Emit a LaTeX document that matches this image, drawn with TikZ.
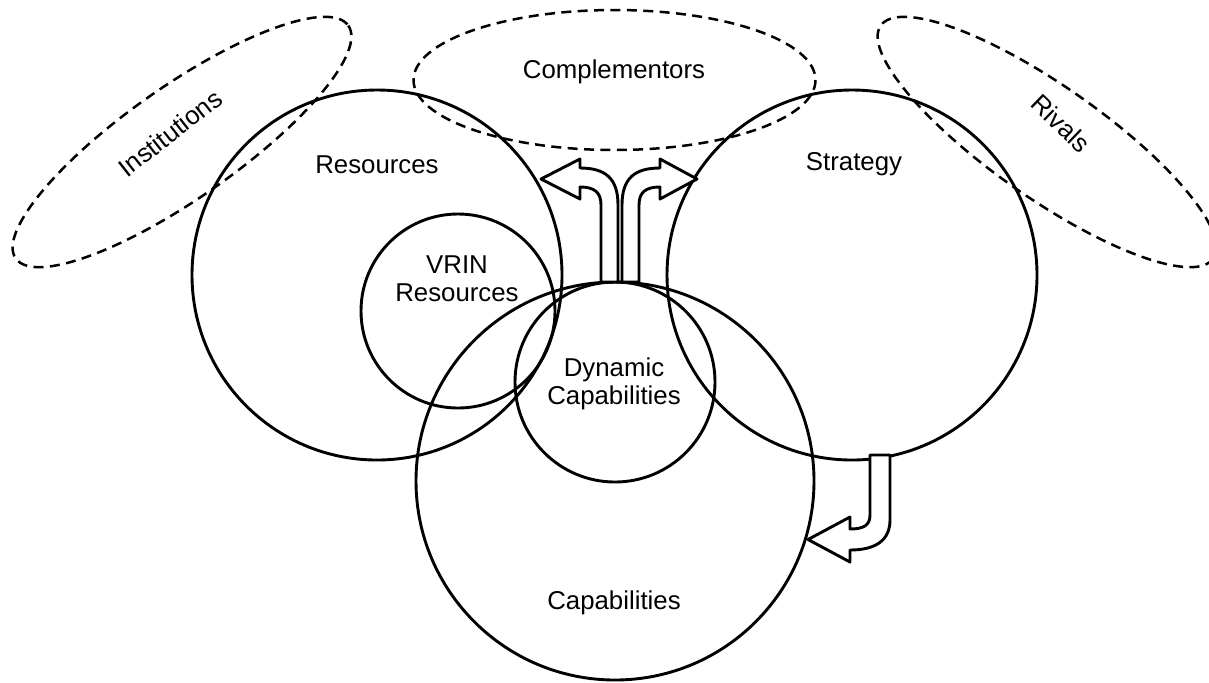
\documentclass[tikz,border=0pt]{standalone}
\usepackage{fontspec}
\setmainfont{Liberation Sans}

\begin{document}
\begin{tikzpicture}[line cap=round,line join=round,x=0.5pt,y=-0.5pt,
		ring/.style={line width=1.45pt},
		envelope/.style={line width=1.25pt,line cap=butt,dash pattern=on 5pt off 3.2pt},
		blockarrow/.style={line width=1.45pt,fill=white},
		lbl/.style={font=\fontsize{12.9}{14}\selectfont,align=center,text=black}]
		\useasboundingbox (0,0) rectangle (1209,682);
		\clip (0,0) rectangle (1209,682);
		% centres
		\coordinate (cRes) at (377,275);
		\coordinate (cStrat) at (852,275);
		\coordinate (cCapa) at (615,481);
		\coordinate (cDyn) at (615,382);
		\coordinate (cVrin) at (458,311);
		% outer environment
		\draw [envelope,rotate around={35:(182,142)}] (182,142) ellipse [x radius=203,y radius=56];
		\draw [envelope] (614.5,80) ellipse [x radius=201,y radius=70];
		\draw [envelope,rotate around={-35:(1047,142)}] (1047,142) ellipse [x radius=203,y radius=56];
		% circles
		\draw [ring] (cRes) circle [radius=185];
		\draw [ring] (cStrat) circle [radius=185];
		\draw [ring] (cCapa) circle [radius=199];
		\draw [ring] (cDyn) circle [radius=100];
		\draw [ring] (cVrin) circle [radius=97];
		% block arrows
		\draw [blockarrow] (601,282) -- (601,205) .. controls (601,192) and (594,187) .. (580,187) -- (580,199) -- (541,179) -- (580,159) -- (580,168) .. controls (605,168) and (618,178) .. (618,205) -- (618,282) -- cycle;
		\draw [blockarrow] (639,282) -- (639,205) .. controls (639,192) and (646,187) .. (660,187) -- (660,199) -- (697,179) -- (660,159) -- (660,168) .. controls (635,168) and (622,178) .. (622,205) -- (622,282) -- cycle;
		\draw [blockarrow] (870,455) -- (870,515) .. controls (870,525) and (864,529) .. (850,529) -- (850,517) -- (808,539.5) -- (850,562) -- (850,550) .. controls (876,550) and (890,540) .. (890,520) -- (890,455) -- cycle;
		% labels
		\node [lbl,rotate=38] (inst) at (170,133) {Institutions};
		\node [lbl] (compl) at (614,72) {Complementors};
		\node [lbl,rotate=-44] (riv) at (1061,123) {Rivals};
		\node [lbl] (res) at (377,165) {Resources};
		\node [lbl] (strat) at (854,164) {Strategy};
		\node [lbl] (vrin) at (457,279) {VRIN\\Resources};
		\node [lbl] (dyn) at (614,384) {Dynamic\\Capabilities};
		\node [lbl] (capa) at (614,603) {Capabilities};
	\end{tikzpicture}
\end{document}
